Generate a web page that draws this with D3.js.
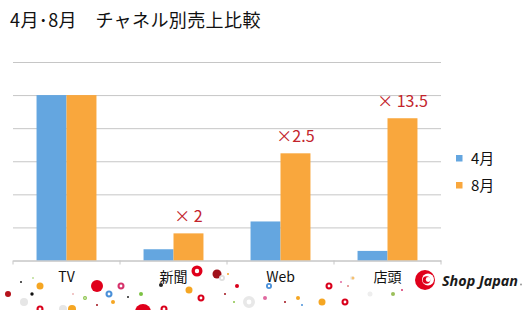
<!DOCTYPE html>
<html lang="ja">
<head>
<meta charset="UTF-8">
<title>4月・8月 チャネル別売上比較</title>
<style>
  html, body { margin: 0; padding: 0; background: #fff; overflow: hidden; }
  svg { display: block; }
  text { font-family: "Noto Sans CJK JP", "Noto Sans", sans-serif; }
  .grid line { stroke: #c6c6c6; stroke-width: 1; }
  .grid .domain { display: none; }
</style>
<script src="https://cdn.jsdelivr.net/npm/d3@7/dist/d3.min.js"></script>
</head>
<body>
<svg width="529" height="310"></svg>
<script>
// chart data
var categories = ["TV", "新聞", "Web", "店頭"];
var seriesNames = ["4月", "8月"];
var april = [5.0, 0.34, 1.18, 0.29];
var august = [5.0, 0.82, 3.24, 4.30];
var growthLabels = [null, "× 2", "×2.5", "× 13.5"];
var yTicks = [0, 1, 2, 3, 4, 5, 6];

var colors = ["#64a6e0", "#f9a73d"];

var svg = d3.select("svg");
var plotLeft = 13, plotRight = 441, plotTop = 62, plotBottom = 260.5;

var x = d3.scaleBand()
    .domain(categories)
    .range([plotLeft, plotRight])
    .paddingInner(0.44)
    .paddingOuter(0.22);

var xs = d3.scaleBand()
    .domain(seriesNames)
    .range([0, x.bandwidth()]);

var y = d3.scaleLinear().domain([0, 6]).range([plotBottom, plotTop]);

// title
svg.append("text")
    .attr("x", 10).attr("y", 27)
    .attr("font-size", 18)
    .attr("letter-spacing", 0.4)
    .attr("fill", "#111")
    .text("4月･8月　チャネル別売上比較");

// gridlines
svg.append("g")
    .attr("class", "grid")
    .attr("transform", "translate(" + plotLeft + ",0)")
    .call(d3.axisLeft(y).tickValues(yTicks).tickSize(-(plotRight - plotLeft)).tickFormat(""));

// bars
var rows = categories.map(function(c, i) {
    return { cat: c, values: [april[i], august[i]], label: growthLabels[i] };
});

var group = svg.append("g").selectAll("g")
    .data(rows)
    .enter().append("g")
    .attr("transform", function(d) { return "translate(" + x(d.cat) + ",0)"; });

group.selectAll("rect")
    .data(function(d) { return d.values.map(function(v, j) { return { name: seriesNames[j], v: v, j: j }; }); })
    .enter().append("rect")
    .attr("x", function(d) { return xs(d.name); })
    .attr("width", xs.bandwidth())
    .attr("y", function(d) { return y(d.v); })
    .attr("height", function(d) { return plotBottom - y(d.v); })
    .attr("fill", function(d) { return colors[d.j]; });

// growth annotations above the August bar
group.filter(function(d) { return d.label; })
    .append("text")
    .attr("x", xs("8月") + xs.bandwidth() / 2)
    .attr("y", function(d) { return y(d.values[1]) - 11; })
    .attr("text-anchor", "middle")
    .attr("font-size", 16)
    .attr("fill", "#c3242c")
    .text(function(d) { return d.label; });

// x axis
var xAxis = svg.append("g")
    .attr("transform", "translate(0," + plotBottom + ")")
    .call(d3.axisBottom(x).tickSize(0).tickPadding(12));
xAxis.select(".domain").attr("stroke", "#c6c6c6");
xAxis.selectAll("text")
    .attr("font-size", 14)
    .attr("fill", "#111")
    .style("font-family", "\"Noto Sans CJK JP\", sans-serif");

// category boundary ticks
var bounds = d3.range(categories.length + 1).map(function(i) { return plotLeft + i * x.step(); });
svg.append("g").selectAll("line")
    .data(bounds)
    .enter().append("line")
    .attr("x1", function(d) { return d; }).attr("x2", function(d) { return d; })
    .attr("y1", plotBottom).attr("y2", plotBottom + 4)
    .attr("stroke", "#c6c6c6");

// legend
var legend = svg.append("g").selectAll("g")
    .data(seriesNames)
    .enter().append("g")
    .attr("transform", function(d, i) { return "translate(456," + (155 + i * 27) + ")"; });
legend.append("rect")
    .attr("width", 6.5).attr("height", 6.5)
    .attr("fill", function(d, i) { return colors[i]; });
legend.append("text")
    .attr("x", 15).attr("y", 3.5)
    .attr("dy", "0.36em")
    .attr("font-size", 15)
    .attr("fill", "#111")
    .text(function(d) { return d; });

// decorative confetti along the bottom
var confetti = [
    [8, 294, 3, "#b5121b", 0], [21, 282, 1, "#222", 0], [33, 278, 0.8, "#8bc34a", 0],
    [40, 286, 3.5, "#f5a623", 0], [32, 294, 1.7, "#111", 0], [24, 302, 4, "#e6e6e6", 0],
    [40, 309, 3.5, "#d9001b", 1], [63, 309, 4, "#e6e6e6", 0], [72, 309, 4, "#f5a623", 0],
    [97, 286, 6, "#e0001b", 0], [109, 294, 3.5, "#4a90d9", 1], [121, 286, 3.5, "#d6336c", 1],
    [85, 298, 2, "#8bc34a", 1], [73, 294, 0.8, "#e08080", 0], [113, 302, 2, "#f5a623", 0],
    [97, 305, 1, "#a0101a", 0], [128, 297, 1, "#222", 0], [141, 294, 2, "#7cc243", 0],
    [143, 312, 8, "#e0001b", 0], [164, 309, 3.5, "#d9001b", 1], [161, 285, 2, "#222", 0],
    [197, 271, 5.5, "#e0001b", 1], [217, 274, 4.5, "#a0101a", 0], [222, 278, 3, "#e0e0e0", 1],
    [228, 274, 1, "#f5a623", 0], [189, 290, 3.5, "#f5a623", 0], [201, 298, 3.5, "#d9001b", 1],
    [237, 286, 2, "#d9001b", 0], [225, 294, 1, "#a0101a", 0], [234, 302, 1, "#8bc34a", 0],
    [249, 302, 6, "#e8e8e8", 1], [265, 298, 2, "#e06aa0", 0], [269, 286, 3, "#4a90d9", 1],
    [329, 286, 3.5, "#d9001b", 1], [341, 282, 1, "#e06aa0", 0], [348, 286, 1, "#e08080", 0],
    [352, 278, 2, "#eeeeee", 0], [322, 302, 3.5, "#f5a623", 0], [345, 302, 3.5, "#d9001b", 1],
    [298, 298, 2, "#f5a623", 0], [285, 302, 1, "#a0101a", 0], [302, 305, 1, "#4a90d9", 0],
    [353, 278, 1.5, "#f5c070", 0], [402, 290, 1, "#d6336c", 0], [393, 294, 2, "#9bbf5a", 0],
    [370, 294, 2.5, "#eeeeee", 0]
];
svg.insert("g", ":first-child").selectAll("circle")
    .data(confetti)
    .enter().append("circle")
    .attr("cx", function(d) { return d[0]; })
    .attr("cy", function(d) { return d[1]; })
    .attr("r", function(d) { return d[4] ? d[2] - d[2] * 0.3 : d[2]; })
    .attr("fill", function(d) { return d[4] ? "none" : d[3]; })
    .attr("stroke", function(d) { return d[4] ? d[3] : "none"; })
    .attr("stroke-width", function(d) { return d[4] ? d[2] * 0.6 : 0; });

// Shop Japan logo
var logo = svg.append("g").attr("transform", "translate(425,280)");
logo.append("circle").attr("r", 10).attr("fill", "#e0001b");
logo.append("circle").attr("cx", 3).attr("cy", -0.5).attr("r", 6).attr("fill", "#fff");
logo.append("circle").attr("cx", 1.5).attr("cy", 0).attr("r", 3.8).attr("fill", "#e0001b");
logo.append("circle").attr("cx", 3.2).attr("cy", -0.5).attr("r", 2.4).attr("fill", "#fff");
svg.append("text")
    .attr("x", 442).attr("y", 286)
    .attr("font-size", 14)
    .attr("font-weight", "bold")
    .attr("font-style", "italic")
    .attr("fill", "#1a1a1a")
    .style("font-family", "\"Open Sans\", \"DejaVu Sans\", sans-serif")
    .attr("textLength", 76)
    .attr("lengthAdjust", "spacingAndGlyphs")
    .text("Shop Japan");
svg.append("circle").attr("cx", 521).attr("cy", 284.5).attr("r", 1).attr("fill", "#999");
</script>
</body>
</html>
